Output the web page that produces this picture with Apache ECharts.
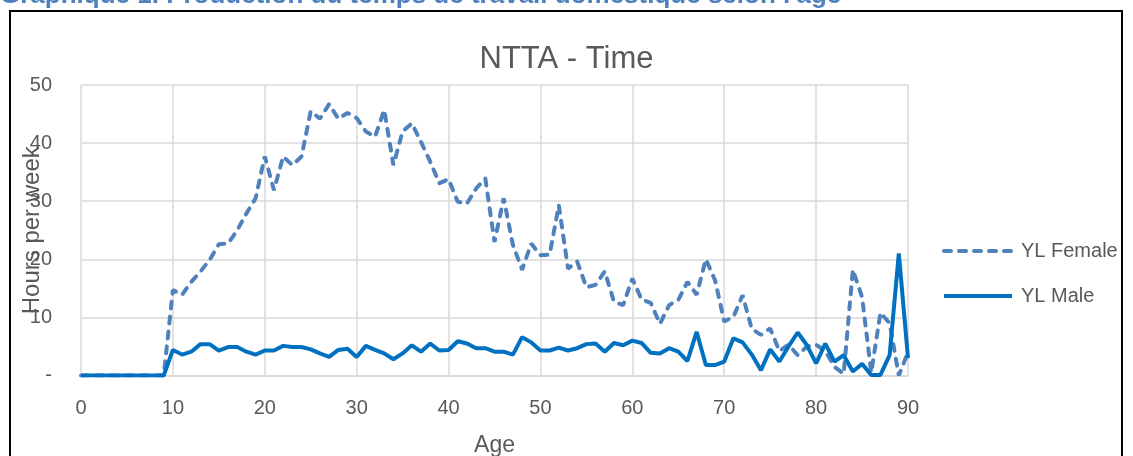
<!DOCTYPE html>
<html>
<head>
<meta charset="utf-8">
<script src="https://cdn.jsdelivr.net/npm/echarts@6/dist/echarts.min.js"></script>
<style>
html,body{margin:0;padding:0;background:#fff;}
#chart{width:1133px;height:456px;}
</style>
</head>
<body>
<div id="chart"></div>
<script>
const ages = [0,1,2,3,4,5,6,7,8,9,10,11,12,13,14,15,16,17,18,19,20,21,22,23,24,25,26,27,28,29,30,31,32,33,34,35,36,37,38,39,40,41,42,43,44,45,46,47,48,49,50,51,52,53,54,55,56,57,58,59,60,61,62,63,64,65,66,67,68,69,70,71,72,73,74,75,76,77,78,79,80,81,82,83,84,85,86,87,88,89,90];
const female = [0,0,0,0,0,0,0,0,0,0,
  14.7,13.9,16.1,17.9,19.9,22.6,22.7,25.0,27.9,30.5,
  37.7,31.9,37.7,36.2,37.7,45.5,44.2,46.7,44.2,45.2,
  44.3,42.0,41.1,45.7,36.2,42.0,43.4,40.2,36.8,33.1,
  33.8,29.9,29.6,32.2,33.9,23.0,30.5,22.5,18.2,22.7,
  20.7,20.8,29.3,18.4,19.6,15.2,15.6,17.9,12.7,12.1,
  16.7,13.1,12.5,8.9,12.1,13.0,16.1,13.9,20.0,16.4,
  9.3,10.1,13.8,8.0,7.0,8.1,4.2,5.3,3.5,5.0,
  5.3,4.2,1.5,0.3,18.2,13.5,0.5,10.8,9.0,0.0,4.0];
const male = [0,0,0,0,0,0,0,0,0,0,
  4.4,3.6,4.1,5.4,5.4,4.3,4.9,4.9,4.1,3.6,
  4.3,4.3,5.1,4.9,4.9,4.5,3.8,3.2,4.4,4.6,
  3.2,5.1,4.4,3.8,2.8,3.8,5.2,4.1,5.5,4.3,
  4.4,5.9,5.5,4.7,4.7,4.1,4.1,3.6,6.6,5.7,
  4.3,4.3,4.8,4.3,4.7,5.4,5.5,4.1,5.6,5.2,
  6.0,5.6,3.9,3.8,4.7,4.1,2.5,7.5,1.8,1.8,
  2.4,6.4,5.7,3.6,0.9,4.5,2.4,5.0,7.4,5.2,
  2.1,5.5,2.4,3.5,0.7,2.0,0.1,0.1,3.5,21.0,3.0];
const seriesNames = ['YL Female','YL Male'];
const chartTitle = 'NTTA - Time';
const headerText = "Graphique 1. Production du temps de travail domestique selon l'âge";
const xName = 'Age';
const yName = 'Hours per week';

const font = 'Liberation Sans';
const chart = echarts.init(document.getElementById('chart'));
chart.setOption({
  animation: false,
  backgroundColor: '#ffffff',
  textStyle: { fontFamily: font },
  title: {
    text: chartTitle, left: 'center', top: 39,
    textStyle: { fontSize: 31, fontWeight: 'normal', color: '#595959', fontFamily: font }
  },
  graphic: [
    { type: 'rect', shape: { x: 10, y: 11, width: 1112, height: 470 },
      style: { fill: 'none', stroke: '#000', lineWidth: 2 }, silent: true },
    { type: 'text', left: 0, top: -17,
      style: { text: headerText, fill: '#4F81BD', font: 'bold 26px "Liberation Sans"' } }
  ],
  legend: {
    orient: 'vertical', left: 937, top: 236, itemGap: 25,
    itemWidth: 68, itemHeight: 14,
    itemStyle: { opacity: 0 },
    lineStyle: { width: 4 },
    textStyle: { fontSize: 20, color: '#595959', fontFamily: font, padding: [0,0,0,4] },
    data: seriesNames
  },
  grid: { left: 81, right: 225, top: 85, bottom: 80.5, containLabel: false, outerBoundsMode: 'none' },
  xAxis: {
    type: 'value', min: 0, max: 90, interval: 10,
    name: xName, nameLocation: 'middle', nameGap: 59, nameMoveOverlap: false,
    nameTextStyle: { fontSize: 23, color: '#595959', fontFamily: font },
    axisLine: { show: true, lineStyle: { color: '#D9D9D9', width: 1.5 } },
    axisTick: { show: false },
    axisLabel: { fontSize: 20, color: '#595959', margin: 23, fontFamily: font },
    splitLine: { show: true, lineStyle: { color: '#D9D9D9', width: 1.5 } }
  },
  yAxis: {
    type: 'value', min: 0, max: 50, interval: 10,
    name: yName, nameLocation: 'middle', nameGap: 37, nameRotate: 90, nameMoveOverlap: false,
    nameTextStyle: { fontSize: 24, color: '#595959', fontFamily: font },
    axisLine: { show: false },
    axisTick: { show: false },
    axisLabel: { fontSize: 20, color: '#595959', margin: 29, fontFamily: font,
      formatter: v => v === 0 ? '-' : String(v) },
    splitLine: { show: true, lineStyle: { color: '#D9D9D9', width: 1.5 } }
  },
  series: [
    { name: seriesNames[0], type: 'line', symbol: 'none',
      data: ages.map((a, i) => [a, female[i]]),
      lineStyle: { color: '#4F81BD', width: 4, type: [7, 8], cap: 'round' },
      itemStyle: { color: '#4F81BD' } },
    { name: seriesNames[1], type: 'line', symbol: 'none',
      data: ages.map((a, i) => [a, male[i]]),
      lineStyle: { color: '#0070C0', width: 4 },
      itemStyle: { color: '#0070C0' } }
  ]
});
</script>
</body>
</html>
